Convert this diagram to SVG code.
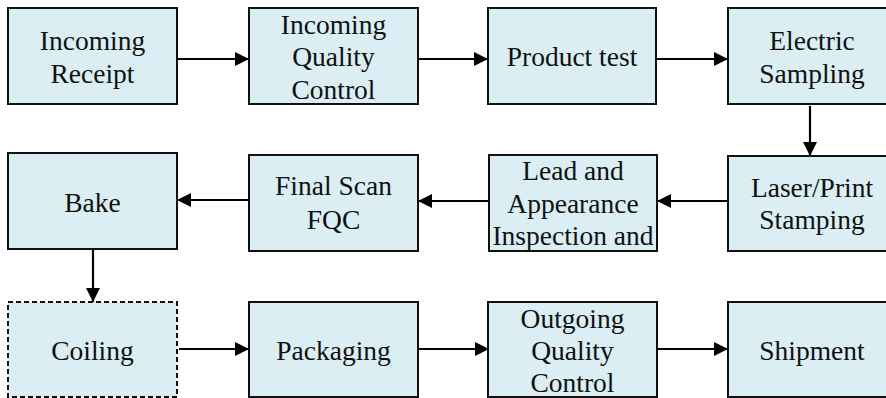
<svg xmlns="http://www.w3.org/2000/svg" width="886" height="398" viewBox="0 0 886 398">
<style>
.box{fill:#DAEEF3;stroke:#111;stroke-width:2}
.dash{stroke-dasharray:5 3}
.t{font-family:'Liberation Serif','DejaVu Serif','Times New Roman',serif;font-size:27.5px;fill:#111;text-anchor:middle}
.c{fill:none;stroke:#000;stroke-width:2.2}
</style>
<defs>
<marker id="ah" markerUnits="userSpaceOnUse" markerWidth="16" markerHeight="16" refX="14" refY="7" orient="auto">
<path d="M0,0 L14,7 L0,14 Z" fill="#000"/>
</marker>
</defs>
<rect width="886" height="398" fill="#fff"/>
<g id="connectors">
<line class="c" x1="177" y1="59" x2="249" y2="59" marker-end="url(#ah)"/>
<line class="c" x1="418" y1="59" x2="488" y2="59" marker-end="url(#ah)"/>
<line class="c" x1="656" y1="59" x2="728" y2="59" marker-end="url(#ah)"/>
<line class="c" x1="810" y1="106" x2="810" y2="156" marker-end="url(#ah)"/>
<line class="c" x1="728" y1="201" x2="657" y2="201" marker-end="url(#ah)"/>
<line class="c" x1="489" y1="201" x2="418" y2="201" marker-end="url(#ah)"/>
<line class="c" x1="249" y1="200" x2="177" y2="200" marker-end="url(#ah)"/>
<line class="c" x1="93" y1="249" x2="93" y2="302" marker-end="url(#ah)"/>
<line class="c" x1="179" y1="349" x2="249" y2="349" marker-end="url(#ah)"/>
<line class="c" x1="419" y1="349" x2="489" y2="349" marker-end="url(#ah)"/>
<line class="c" x1="658" y1="349" x2="728" y2="349" marker-end="url(#ah)"/>
</g>
<g class="t">
<g id="n1"><rect class="box" x="8" y="8" width="169" height="96"/><text x="92.5" y="49.5">Incoming</text><text x="92.5" y="82.5">Receipt</text></g>
<g id="n2"><rect class="box" x="249" y="8" width="169" height="96"/><text x="333.5" y="34">Incoming</text><text x="333.5" y="66">Quality</text><text x="333.5" y="98.5">Control</text></g>
<g id="n3"><rect class="box" x="488" y="8" width="168" height="96"/><text x="572" y="65.5">Product test</text></g>
<g id="n4"><rect class="box" x="728" y="8" width="168" height="96"/><text x="812" y="49.5">Electric</text><text x="812" y="82.5">Sampling</text></g>
<g id="n5"><rect class="box" x="728" y="156" width="168" height="95"/><text x="812" y="197">Laser/Print</text><text x="812" y="229">Stamping</text></g>
<g id="n6"><rect class="box" x="489" y="155" width="168" height="96"/><text x="573" y="180">Lead and</text><text x="573" y="213">Appearance</text><text x="573" y="245">Inspection and</text></g>
<g id="n7"><rect class="box" x="249" y="155" width="169" height="96"/><text x="333.5" y="195">Final Scan</text><text x="333.5" y="229">FQC</text></g>
<g id="n8"><rect class="box" x="8" y="153" width="169" height="96"/><text x="92.5" y="212">Bake</text></g>
<g id="n9"><rect class="box dash" x="8" y="302" width="169" height="95"/><text x="92.5" y="360">Coiling</text></g>
<g id="n10"><rect class="box" x="249" y="302" width="169" height="95"/><text x="333.5" y="360">Packaging</text></g>
<g id="n11"><rect class="box" x="488" y="302" width="169" height="95"/><text x="572.5" y="328">Outgoing</text><text x="572.5" y="360">Quality</text><text x="572.5" y="392">Control</text></g>
<g id="n12"><rect class="box" x="728" y="302" width="168" height="95"/><text x="812" y="360">Shipment</text></g>
</g>
</svg>
